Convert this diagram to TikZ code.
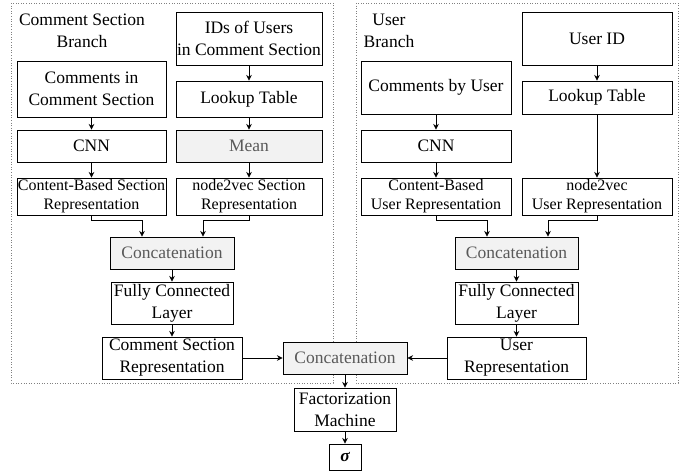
\documentclass[tikz,border=0pt]{standalone}
\usepackage{fontspec}
\setmainfont{Liberation Serif}
\newfontfamily\diagfont{Liberation Serif}
\usetikzlibrary{arrows.meta}
\definecolor{boxgray}{HTML}{F2F2F2}
\definecolor{textgray}{HTML}{595959}
\tikzset{%
  >={Stealth[width=2mm,length=2mm]},
  % Specifications for style of nodes:
     base/.style = {rectangle, draw=black, line width=0.8pt, inner sep=1pt,
                    text centered, align=center, fill=white,
                    font=\diagfont\fontsize{17.5}{22}\selectfont},
    merge/.style = {base, fill=boxgray, text=textgray},
     repr/.style = {base, font=\diagfont\fontsize{16}{19}\selectfont},
   branch/.style = {align=center, font=\diagfont\fontsize{17.5}{22}\selectfont},
    frame/.style = {draw=gray, dotted, line width=0.6pt},
  boxsize/.style 2 args = {minimum width=#1pt, minimum height=#2pt},
}

\begin{document}
\begin{tikzpicture}[x=1pt, y=-1pt, line width=0.8pt]
  \useasboundingbox (0,0) rectangle (694,474);
  % dotted frames round the two branches
  \draw[frame] (11,3) rectangle (333,383);
  \draw[frame] (356,3) rectangle (678,383);
  % Specification of nodes (comment section branch)
  \node (lbranch)   [branch]                        at (82,31)    {Comment Section\\Branch};
  \node (ids)       [base, boxsize={146}{53}]       at (249,38.5) {IDs of Users\\in Comment Section};
  \node (comments)  [base, boxsize={149}{56}]       at (91.5,89)  {Comments in\\Comment Section};
  \node (llookup)   [base, boxsize={146}{36}]       at (249,99)   {Lookup Table};
  \node (lcnn)      [base, boxsize={149}{32}]       at (91.5,146) {CNN};
  \node (mean)      [merge, boxsize={146}{32}]      at (249,146)  {Mean};
  \node (lcontent)  [repr, boxsize={149}{37}]       at (91.5,196.5) {Content-Based Section\\Representation};
  \node (lnode2vec) [repr, boxsize={146}{37}]       at (249,196.5)  {node2vec Section\\Representation};
  \node (lconcat)   [merge, boxsize={124}{32}]      at (172,253)  {Concatenation};
  \node (lfc)       [base, boxsize={122}{42}]       at (172,303)  {Fully Connected\\Layer};
  \node (lrep)      [base, boxsize={140}{42}]       at (172,358)  {Comment Section\\Representation};
  % Specification of nodes (user branch)
  \node (rbranch)   [branch]                        at (389,31)   {User\\Branch};
  \node (userid)    [base, boxsize={150}{53}]       at (597,38.5) {User ID};
  \node (rcomments) [base, boxsize={150}{53}]       at (436,87.5) {Comments by User};
  \node (rlookup)   [base, boxsize={150}{33}]       at (597,97.5) {Lookup Table};
  \node (rcnn)      [base, boxsize={150}{32}]       at (436,146)  {CNN};
  \node (rcontent)  [repr, boxsize={150}{37}]       at (436,196.5) {Content-Based\\User Representation};
  \node (rnode2vec) [repr, boxsize={150}{37}]       at (597,196.5) {node2vec\\User Representation};
  \node (rconcat)   [merge, boxsize={123}{32}]      at (516.5,253) {Concatenation};
  \node (rfc)       [base, boxsize={123}{42}]       at (516.5,303) {Fully Connected\\Layer};
  \node (rrep)      [base, boxsize={139}{42}]       at (516.5,358) {User\\Representation};
  % Specification of nodes (joint part)
  \node (concat)    [merge, boxsize={124}{32}]      at (345,358)  {Concatenation};
  \node (fm)        [base, boxsize={102}{43}]       at (345,409.5) {Factorization\\Machine};
  \node (sigma)     [base, boxsize={32}{26}]        at (345,457)  {\bfseries\itshape σ};
  % Specification of lines between nodes specified above
  \draw[->] (ids) -- (llookup);
  \draw[->] (llookup) -- (mean);
  \draw[->] (mean) -- (lnode2vec);
  \draw[->] (comments) -- (lcnn);
  \draw[->] (lcnn) -- (lcontent);
  \draw[->] (lcontent.south) -- ++(0,5) -| ([xshift=-30pt]lconcat.north);
  \draw[->] (lnode2vec.south) -- ++(0,5) -| ([xshift=31pt]lconcat.north);
  \draw[->] (lconcat) -- (lfc);
  \draw[->] (lfc) -- (lrep);
  \draw[->] (userid) -- (rlookup);
  \draw[->] (rlookup) -- (rnode2vec);
  \draw[->] (rcomments) -- (rcnn);
  \draw[->] (rcnn) -- (rcontent);
  \draw[->] (rcontent.south) -- ++(0,5) -| ([xshift=-29.5pt]rconcat.north);
  \draw[->] (rnode2vec.south) -- ++(0,5) -| ([xshift=31.5pt]rconcat.north);
  \draw[->] (rconcat) -- (rfc);
  \draw[->] (rfc) -- (rrep);
  \draw[->] (lrep) -- (concat);
  \draw[->] (rrep) -- (concat);
  \draw[->] (concat) -- (fm);
  \draw[->] (fm) -- (sigma);
\end{tikzpicture}
\end{document}
